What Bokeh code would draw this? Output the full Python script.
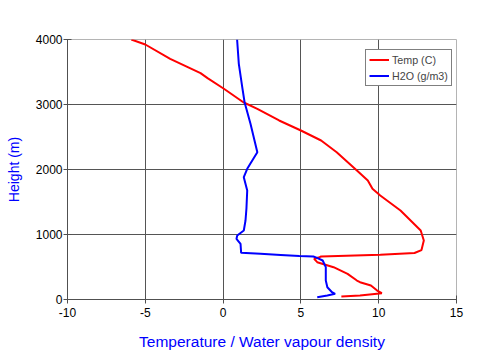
from bokeh.plotting import figure
from bokeh.models import Range1d, FixedTicker, Legend, LegendItem, NumeralTickFormatter
from bokeh.embed import file_html
from bokeh.resources import INLINE

# Temperature profile (deg C) vs height (m)
temp_height = [46, 62, 97, 138, 215, 266, 292, 395, 497, 574, 626, 651, 662,
               690, 715, 760, 908, 1062, 1369, 1600, 1703, 1831, 1985, 2266,
               2446, 2600, 2754, 2934, 3035, 3242, 3405, 3482, 3703, 3923, 4000]
temp_value = [7.6, 8.8, 10.2, 9.9, 9.5, 8.8, 8.6, 8.0, 7.1, 6.05, 5.85, 6.2, 6.3,
              10.1, 12.3, 12.75, 12.9, 12.7, 11.4, 10.1, 9.6, 9.3, 8.6, 7.3,
              6.3, 5.0, 3.6, 2.2, 1.3, 0.05, -1.0, -1.45, -3.4, -5.0, -5.9]

# Water vapour density (g/m3) vs height (m)
h2o_height = [35, 62, 88, 112, 189, 292, 497, 600, 645, 662, 668, 685, 703,
              718, 857, 934, 985, 1062, 1215, 1400, 1677, 1882, 2011, 2266,
              2703, 3035, 3266, 3626, 4000]
h2o_value = [6.05, 6.7, 7.2, 7.0, 6.7, 6.6, 6.6, 6.4, 6.0, 5.8, 4.9, 3.7, 2.4,
             1.16, 1.12, 0.86, 0.91, 1.33, 1.44, 1.5, 1.55, 1.33, 1.55, 2.2,
             1.76, 1.38, 1.23, 1.01, 0.9]

x_ticks = [-10, -5, 0, 5, 10, 15]
y_ticks = [0, 1000, 2000, 3000, 4000]

FONT = "Liberation Sans"

p = figure(width=490, height=354, output_backend="svg", toolbar_location=None,
           x_range=Range1d(-10, 15), y_range=Range1d(0, 4000),
           min_border_left=67, min_border_right=34, min_border_top=39,
           min_border_bottom=55)
p.background_fill_color = "white"
p.border_fill_color = "white"
p.outline_line_color = "#b4b4b4"
p.outline_line_width = 1

for ax, ticks in ((p.xaxis, x_ticks), (p.yaxis, y_ticks)):
    ax.ticker = FixedTicker(ticks=ticks)
    ax.formatter = NumeralTickFormatter(format="0")
    ax.minor_tick_line_color = None
    ax.major_tick_in = 4
    ax.major_tick_out = 4
    ax.axis_line_color = "#505050"
    ax.major_tick_line_color = "#505050"
    ax.major_label_text_font = FONT
    ax.major_label_text_font_size = "12px"
    ax.major_label_text_color = "black"
    ax.axis_label_text_font = FONT
    ax.axis_label_text_font_style = "normal"
    ax.axis_label_text_color = "#0000ff"

p.xaxis.axis_label = "Temperature / Water vapour density"
p.yaxis.axis_label = "Height (m)"
p.xaxis.axis_label_text_font_size = "15.5px"
p.yaxis.axis_label_text_font_size = "14px"
p.xaxis.major_label_standoff = 4
p.xaxis.axis_label_standoff = 13
p.yaxis.major_label_standoff = 1
p.yaxis.axis_label_standoff = 11

p.xgrid.ticker = FixedTicker(ticks=x_ticks[1:-1])
p.ygrid.ticker = FixedTicker(ticks=y_ticks[1:-1])
for g in (p.xgrid, p.ygrid):
    g.grid_line_color = "#555555"
    g.grid_line_width = 1

r_temp = p.line(temp_value, temp_height, line_color="#ff0000", line_width=2)
r_h2o = p.line(h2o_value, h2o_height, line_color="#0000ff", line_width=2)

legend = Legend(items=[LegendItem(label="Temp (C)", renderers=[r_temp]),
                       LegendItem(label="H2O (g/m3)", renderers=[r_h2o])],
                location=(298, 213))
legend.border_line_color = "black"
legend.border_line_width = 1
legend.background_fill_color = "white"
legend.background_fill_alpha = 1
legend.label_text_font = FONT
legend.label_text_font_size = "10.7px"
legend.padding = 3
legend.spacing = 3
legend.margin = 0
legend.glyph_height = 13
legend.glyph_width = 20
legend.label_height = 13
legend.label_standoff = 3
p.add_layout(legend, "center")

open("out.html", "w").write(file_html(p, INLINE))
